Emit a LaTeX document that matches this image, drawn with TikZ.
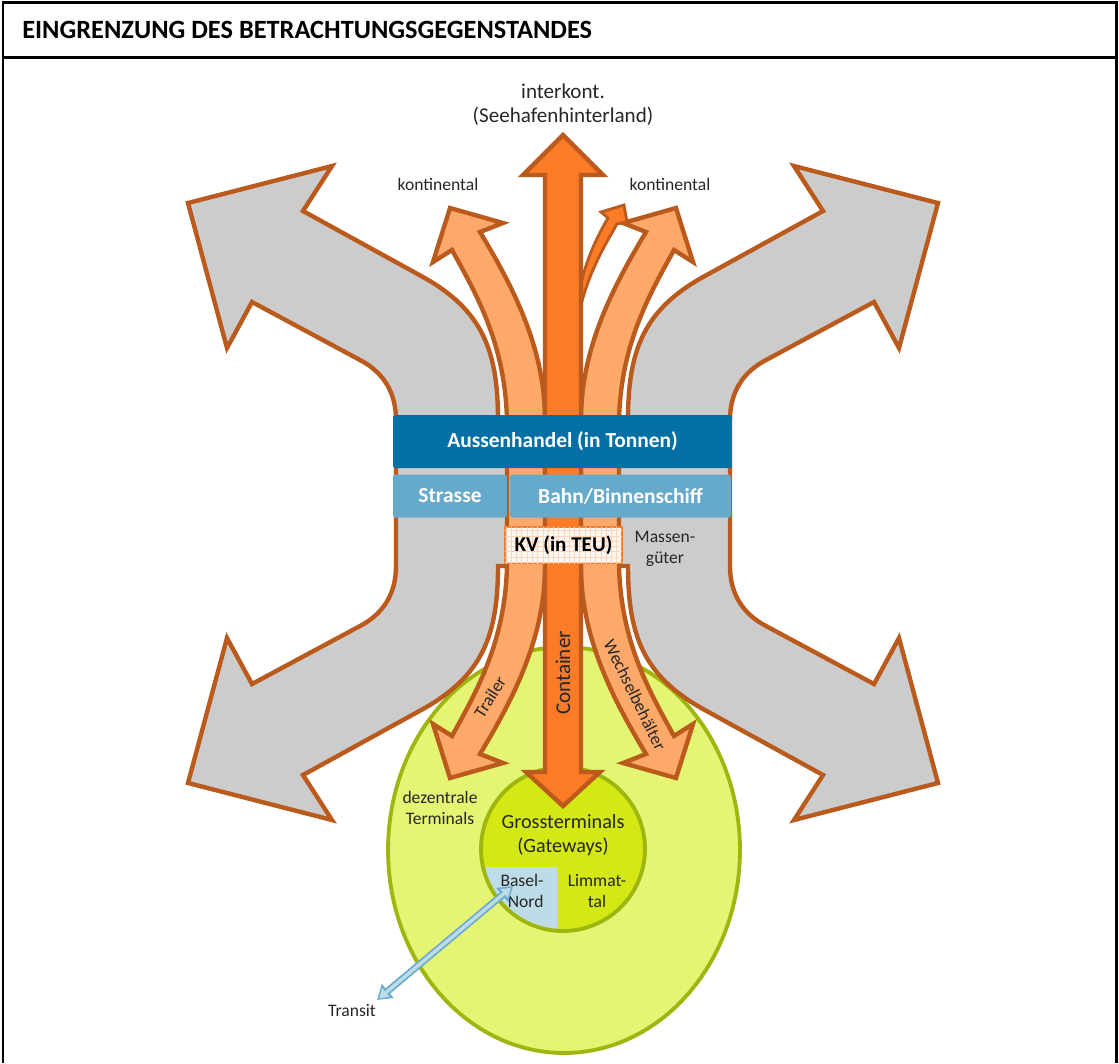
\documentclass[tikz,border=0pt]{standalone}
\usepackage{fontspec}
\setmainfont{Carlito}
\usetikzlibrary{arrows.meta,patterns}

\definecolor{greyfill}{RGB}{204,204,204}
\definecolor{flowline}{RGB}{186,90,28}
\definecolor{darkflow}{RGB}{251,123,38}
\definecolor{lightflow}{RGB}{252,169,106}
\definecolor{outerfill}{RGB}{229,245,115}
\definecolor{outerline}{RGB}{160,182,16}
\definecolor{corefill}{RGB}{212,232,20}
\definecolor{tradeblue}{RGB}{2,111,165}
\definecolor{modeblue}{RGB}{101,169,203}
\definecolor{kvline}{RGB}{243,128,50}
\definecolor{kvfill}{RGB}{255,248,242}
\definecolor{kvgrid}{RGB}{252,212,185}
\definecolor{baselfill}{RGB}{190,219,232}
\definecolor{transitline}{RGB}{110,172,206}

\tikzset{
  frame/.style={line width=1.7pt},
  flow/.style={draw=flowline, line width=2.5pt, line join=miter},
  zone/.style={draw=outerline, line width=2.2pt},
  textsmall/.style={font=\fontsize{10}{12}\selectfont, text=black!85, align=center, inner sep=0pt},
  textmid/.style={font=\fontsize{12}{13.6}\selectfont, text=black!85, align=center, inner sep=0pt},
  boxtext/.style={font=\bfseries\fontsize{12.2}{14}\selectfont, text=white, inner sep=0pt},
  tradebox/.style={boxtext, fill=tradeblue, rounded corners=1pt, minimum height=1.06cm},
  modebox/.style={boxtext, fill=modeblue, rounded corners=1pt, minimum height=0.86cm},
  kvbox/.style={font=\bfseries\fontsize{12}{14}\selectfont, draw=kvline, line width=1.4pt, fill=kvfill,
    postaction={pattern=grid, pattern color=kvgrid}, minimum width=2.34cm, minimum height=0.72cm, inner sep=0pt},
  transit/.style={draw=transitline, line width=4pt, {Triangle[length=8pt,width=10pt]}-{Triangle[length=8pt,width=10pt]}},
  transitcore/.style={draw=baselfill, line width=1.9pt, {Triangle[length=5pt,width=6.2pt]}-{Triangle[length=5pt,width=6.2pt]},
    shorten <=1.6pt, shorten >=1.6pt}
}

\begin{document}
\begin{tikzpicture}[x=0.02cm, y=-0.02cm]
    \useasboundingbox (0,0) rectangle (1119,1063);

    % Frame and title
    \draw[frame] (3,1063) -- (3,2) -- (1116,2) -- (1116,1063);
    \draw[frame] (3,57) -- (1116,57);
    \node[anchor=base west, font=\bfseries\fontsize{15}{18}\selectfont, inner sep=0pt] (title) at (22,38) {EINGRENZUNG DES BETRACHTUNGSGEGENSTANDES};

    % Terminal zones
    \draw[zone, fill=outerfill] (564,850) ellipse [x radius=3.52cm, y radius=4.06cm];
    \fill[corefill] (563,849) circle (1.64cm);
    \begin{scope}
        \clip (563,849) circle (1.64cm);
        \fill[baselfill] (470,867) rectangle (557,940);
    \end{scope}
    \draw[zone] (563,849) circle (1.64cm);

    % Grey flows (Massengueter)
    \draw[flow, fill=greyfill] (498,420) .. controls (498,350) and (482,310) .. (423,277)
        -- (303,211) -- (332,166) -- (188,203) -- (227,348) -- (252,302)
        -- (360,360) .. controls (383,372) and (396,392) .. (396,420)
        -- (396,566) .. controls (396,594) and (383,614) .. (360,626)
        -- (252,684) -- (227,638) -- (188,783) -- (332,820) -- (303,775)
        -- (423,709) .. controls (482,676) and (498,636) .. (498,566)
        -- (628,566) .. controls (628,636) and (644,676) .. (703,709)
        -- (823,775) -- (794,820) -- (938,783) -- (899,638) -- (874,684)
        -- (766,626) .. controls (743,614) and (730,594) .. (730,566)
        -- (730,420) .. controls (730,392) and (743,372) .. (766,360)
        -- (874,302) -- (899,348) -- (938,203) -- (794,166) -- (823,211)
        -- (703,277) .. controls (644,310) and (628,350) .. (628,420) -- cycle;

    % Light orange flows (kontinental / Trailer / Wechselbehaelter)
    \foreach \side in {1,-1} {
        \begin{scope}[shift={({563-563*\side},0)}, xscale=\side]
            \draw[flow, fill=lightflow] (452,250) -- (433,262) -- (450,208) -- (503,223) -- (480,232)
                .. controls (515,290) and (545,350) .. (545,420) -- (545,566)
                .. controls (545,636) and (515,696) .. (480,754)
                -- (503,763) -- (450,778) -- (433,724) -- (452,736)
                .. controls (478,689) and (505,641) .. (507,566) -- (507,420)
                .. controls (505,345) and (478,297) .. (452,250) -- cycle;
        \end{scope}
    }

    % Small branch
    \draw[flow, line width=1.6pt, fill=darkflow] (581,283) .. controls (588,255) and (598,235) .. (608,218)
        -- (601,212) -- (624,205) -- (627,222) -- (617,224)
        .. controls (605,245) and (590,270) .. (581,305) -- cycle;

    % Container flow
    \draw[flow, fill=darkflow] (545,772) -- (545,175) -- (523,175) -- (563,135) -- (603,175)
        -- (581,175) -- (581,772) -- (600,772) -- (563,806) -- (526,772) -- cycle;

    % Boxes
    \node[tradebox, minimum width=6.78cm] (trade) at (562.5,441.5) {Aussenhandel (in Tonnen)};
    \node[modebox, minimum width=2.28cm] (road) at (450,496) {Strasse};
    \node[modebox, minimum width=4.42cm] (rail) at (620.5,496) {Bahn/Binnenschiff};
    \node[kvbox] (kv) at (563.5,545) {KV (in TEU)};

    % Labels
    \node[textmid] (interkont) at (563,105) {interkont.\\(Seehafenhinterland)};
    \node[textsmall] (kontL) at (438,184) {kontinental};
    \node[textsmall] (kontR) at (670,184) {kontinental};
    \node[textsmall] (massen) at (665,549) {Massen-\\güter};
    \node[textmid, rotate=90] (container) at (563,673) {Container};
    \node[textsmall, rotate=58] (trailer) at (490,697) {Trailer};
    \node[textsmall, rotate=-64] (wechsel) at (635,695) {Wechselbehälter};
    \node[textsmall] (dezentral) at (440,808) {dezentrale\\Terminals};
    \node[textmid, font=\fontsize{11.5}{13.6}\selectfont] (gross) at (563,835) {Grossterminals\\(Gateways)};
    \node[textsmall, align=right] (basel) at (522,891) {Basel-\\Nord};
    \node[textsmall] (limmat) at (597,891) {Limmat-\\tal};
    \node[textsmall] (transit) at (352,1010) {Transit};

    % Transit link
    \coordinate (trA) at (377,1000);
    \coordinate (trB) at (513,886);
    \draw[transit] (trA) -- (trB);
    \draw[transitcore] (trA) -- (trB);
\end{tikzpicture}
\end{document}
